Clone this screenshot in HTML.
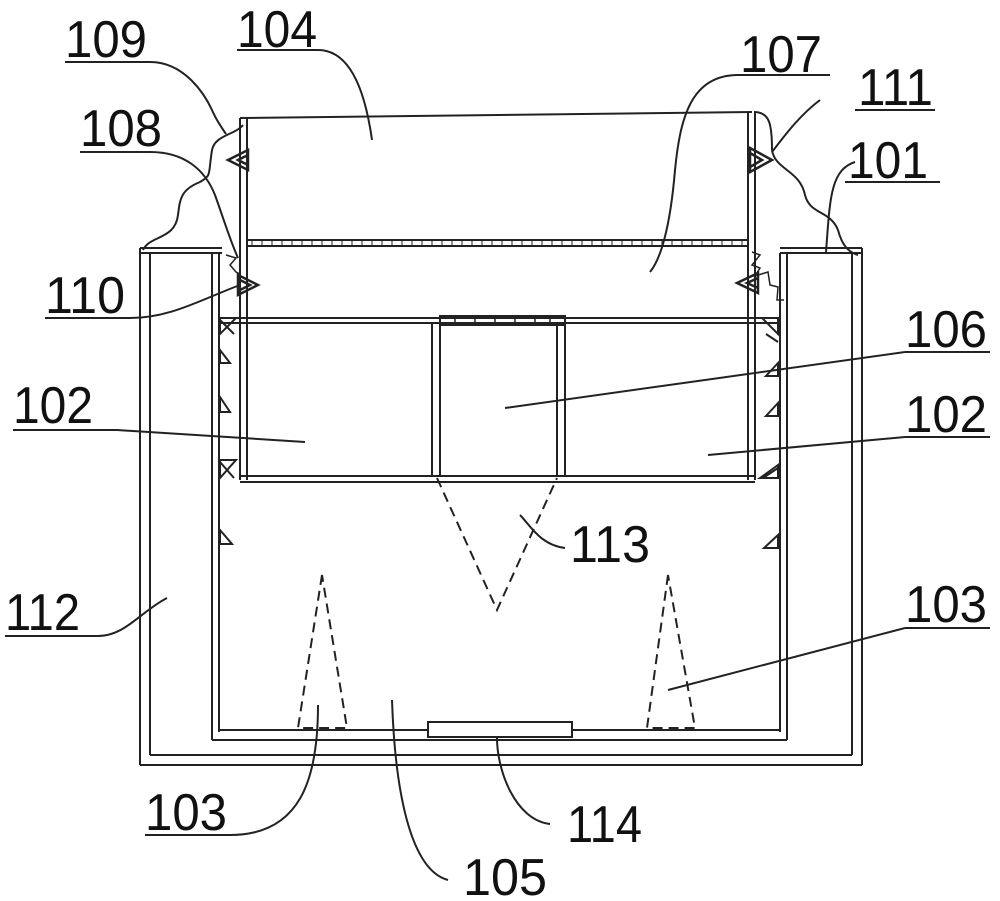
<!DOCTYPE html>
<html><head><meta charset="utf-8"><style>
html,body{margin:0;padding:0;background:#fff}
svg{display:block}
text{font-family:"Liberation Sans",sans-serif;font-size:52px;fill:#111}
</style></head><body>
<svg width="1000" height="901" viewBox="0 0 1000 901" xmlns="http://www.w3.org/2000/svg">
<g stroke="#222" stroke-width="2" fill="none">
<!-- outer box 112 -->
<path d="M140 248 H222 M140 253 H222 M780 248 H862 M780 253 H862"/>
<line x1="140" y1="248" x2="140" y2="765"/><line x1="150" y1="253" x2="150" y2="755"/>
<line x1="852" y1="253" x2="852" y2="755"/><line x1="862" y1="248" x2="862" y2="765"/>
<line x1="140" y1="765" x2="862" y2="765"/><line x1="150" y1="755" x2="852" y2="755"/>
<!-- inner container -->
<line x1="212" y1="253" x2="212" y2="740"/><line x1="219" y1="253" x2="219" y2="732"/>
<line x1="787" y1="253" x2="787" y2="740"/><line x1="780" y1="253" x2="780" y2="732"/>
<line x1="212" y1="740" x2="787" y2="740"/><line x1="219" y1="730" x2="780" y2="730"/>
<!-- top box 104 -->
<line x1="240" y1="118" x2="752" y2="112"/>
<line x1="240" y1="118" x2="240" y2="480"/><line x1="247" y1="118" x2="247" y2="480"/>
<line x1="748" y1="112" x2="748" y2="480"/><line x1="755" y1="112" x2="755" y2="480"/>
<rect x="247" y="240" width="501" height="6" stroke-width="2"/>
<path d="M252 240 v6 M262 240 v6 M272 240 v6 M282 240 v6 M292 240 v6 M302 240 v6 M312 240 v6 M322 240 v6 M332 240 v6 M342 240 v6 M352 240 v6 M362 240 v6 M372 240 v6 M382 240 v6 M392 240 v6 M402 240 v6 M412 240 v6 M422 240 v6 M432 240 v6 M442 240 v6 M452 240 v6 M462 240 v6 M472 240 v6 M482 240 v6 M492 240 v6 M502 240 v6 M512 240 v6 M522 240 v6 M532 240 v6 M542 240 v6 M552 240 v6 M562 240 v6 M572 240 v6 M582 240 v6 M592 240 v6 M602 240 v6 M612 240 v6 M622 240 v6 M632 240 v6 M642 240 v6 M652 240 v6 M662 240 v6 M672 240 v6 M682 240 v6 M692 240 v6 M702 240 v6 M712 240 v6 M722 240 v6 M732 240 v6 M742 240 v6" stroke-width="1"/>
<!-- divisions -->
<line x1="219" y1="318" x2="780" y2="318"/><line x1="219" y1="323" x2="780" y2="323"/>
<line x1="240" y1="476" x2="755" y2="476"/><line x1="240" y1="482" x2="755" y2="482"/>
<line x1="432" y1="323" x2="432" y2="476"/><line x1="440" y1="323" x2="440" y2="476"/>
<line x1="557" y1="323" x2="557" y2="476"/><line x1="565" y1="323" x2="565" y2="476"/>
<rect x="440" y="316" width="125" height="9"/>
<path d="M455 316 v9 M475 316 v9 M495 316 v9 M515 316 v9 M535 316 v9 M550 316 v9" stroke-width="1.5"/>
<!-- dashed triangles -->
<g stroke-dasharray="10,6">
<path d="M437 478 L497 610 L557 478"/>
<path d="M322 575 L298 728 H347 Z"/>
<path d="M668 575 L647 728 H695 Z"/>
</g>
<rect x="428" y="722" width="144" height="15" fill="#fff"/>
<!-- wall triangles -->
<path d="M220 318 L236 318 L220 334 Z M220 320 L234 334 M220 350 L230 363 L220 363 Z M220 397 L230 412 L220 412 Z M220 460 L236 460 L220 478 Z M220 462 L234 478 M220 530 L232 544 L220 544 Z"/>
<path d="M778 318 L762 318 L778 334 Z M778 342 L766 334 M778 363 L766 376 L778 376 Z M778 403 L766 416 L778 416 Z M778 465 L760 478 L778 478 Z M778 468 L763 478 M778 535 L764 548 L778 548 Z"/>
<!-- clips 108-111 -->
<path d="M248 150 L228 160 L248 170 Z M248 155 L238 160 L248 165" stroke-width="2.5"/>
<path d="M238 275 L258 285 L238 295 Z M238 279 L250 285 L238 291" stroke-width="2.5"/>
<path d="M750 148 L772 160 L750 172 Z M750 153 L762 160 L750 167" stroke-width="2.5"/>
<path d="M758 273 L737 283 L758 293 Z M758 278 L747 283 L758 288" stroke-width="2.5"/>
<path d="M752 252 L760 255 L752 265 L760 268 L755 276 L768 272 L770 285 L778 287 L777 300 L784 300" stroke-width="1.5"/>
<path d="M226 255 L236 258 L230 265 L236 272 L240 274" stroke-width="1.5"/>
<!-- leader lines -->
<path d="M65 62 H150 C185 62 205 95 212 110 C216 120 222 128 226 134"/>
<path d="M243 125 C235 135 215 135 212 150 C208 175 212 175 200 182 C180 190 180 200 178 215 C175 240 150 235 143 250"/>
<path d="M80 152 H150 C185 152 205 170 215 195 C224 220 230 240 238 258"/>
<path d="M45 318 H130 C170 318 200 300 240 285"/>
<path d="M13 430 H117 L305 442"/>
<path d="M5 636 H98 C125 636 140 612 167 598"/>
<path d="M145 835 H230 C300 835 318 780 318 705"/>
<path d="M448 880 C410 870 395 790 392 700"/>
<path d="M550 824 C515 820 497 770 497 738"/>
<path d="M565 548 C540 545 530 525 520 515"/>
<path d="M905 628 H990 M905 628 L668 690"/>
<path d="M905 437 H990 M905 437 L708 455"/>
<path d="M905 352 H990 M905 352 L505 408"/>
<path d="M845 182 H940 M855 162 C830 170 830 200 826 252"/>
<path d="M855 110 H935 M820 100 C800 115 785 135 772 152"/>
<path d="M754 112 C770 112 772 125 772 150 C775 170 800 170 805 195 C810 215 830 210 838 230 C842 245 848 252 858 255"/>
<path d="M738 75 H830 M738 75 C690 75 680 120 675 170 C670 230 660 260 650 272"/>
<path d="M237 50 H318 C350 50 365 90 372 140"/>
</g>
<g>
<text x="237" y="47" textLength="80" lengthAdjust="spacingAndGlyphs">104</text>
<text x="65" y="57" textLength="82" lengthAdjust="spacingAndGlyphs">109</text>
<text x="80" y="146" textLength="82" lengthAdjust="spacingAndGlyphs">108</text>
<text x="45" y="313" textLength="80" lengthAdjust="spacingAndGlyphs">110</text>
<text x="13" y="423" textLength="80" lengthAdjust="spacingAndGlyphs">102</text>
<text x="5" y="630" textLength="75" lengthAdjust="spacingAndGlyphs">112</text>
<text x="145" y="830" textLength="82" lengthAdjust="spacingAndGlyphs">103</text>
<text x="463" y="895" textLength="84" lengthAdjust="spacingAndGlyphs">105</text>
<text x="567" y="842" textLength="75" lengthAdjust="spacingAndGlyphs">114</text>
<text x="570" y="562" textLength="80" lengthAdjust="spacingAndGlyphs">113</text>
<text x="905" y="622" textLength="82" lengthAdjust="spacingAndGlyphs">103</text>
<text x="905" y="432" textLength="82" lengthAdjust="spacingAndGlyphs">102</text>
<text x="905" y="347" textLength="82" lengthAdjust="spacingAndGlyphs">106</text>
<text x="848" y="178" textLength="80" lengthAdjust="spacingAndGlyphs">101</text>
<text x="858" y="105" textLength="75" lengthAdjust="spacingAndGlyphs">111</text>
<text x="740" y="72" textLength="82" lengthAdjust="spacingAndGlyphs">107</text>
</g>
</svg>
</body></html>
